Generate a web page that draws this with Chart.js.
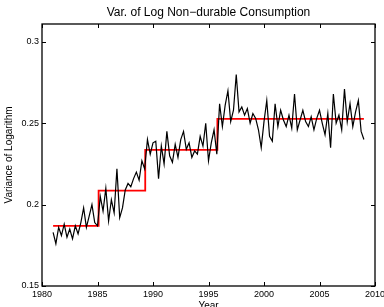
<!DOCTYPE html>
<html>
<head>
<meta charset="utf-8">
<script src="https://cdn.jsdelivr.net/npm/chart.js@4"></script>
<style>
  html, body { margin: 0; padding: 0; background: #fff; }
  canvas { display: block; }
</style>
</head>
<body>
<canvas id="chart" width="384" height="307"></canvas>
<script>
// quarterly variance of log non-durable consumption, 1981Q1 .. 2009Q1
const startYear = 1981;
const variance = [
  0.183, 0.176, 0.186, 0.181,  // 1981
  0.188, 0.180, 0.185, 0.179,  // 1982
  0.187, 0.182, 0.189, 0.198,  // 1983
  0.186, 0.193, 0.200, 0.189,  // 1984
  0.187, 0.205, 0.196, 0.210,  // 1985
  0.190, 0.203, 0.195, 0.222,  // 1986
  0.192, 0.198, 0.209, 0.213,  // 1987
  0.211, 0.216, 0.220, 0.215,  // 1988
  0.227, 0.222, 0.240, 0.231,  // 1989
  0.238, 0.239, 0.216, 0.236,  // 1990
  0.225, 0.245, 0.230, 0.226,  // 1991
  0.237, 0.229, 0.240, 0.245,  // 1992
  0.234, 0.238, 0.229, 0.233,  // 1993
  0.231, 0.242, 0.236, 0.250,  // 1994
  0.227, 0.238, 0.246, 0.231,  // 1995
  0.262, 0.248, 0.261, 0.270,  // 1996
  0.251, 0.258, 0.280, 0.257,  // 1997
  0.260, 0.255, 0.259, 0.250,  // 1998
  0.256, 0.253, 0.246, 0.235,  // 1999
  0.251, 0.264, 0.242, 0.239,  // 2000
  0.262, 0.248, 0.258, 0.252,  // 2001
  0.248, 0.255, 0.247, 0.268,  // 2002
  0.246, 0.252, 0.258, 0.251,  // 2003
  0.248, 0.254, 0.246, 0.253,  // 2004
  0.258, 0.250, 0.243, 0.256,  // 2005
  0.235, 0.268, 0.250, 0.255,  // 2006
  0.246, 0.271, 0.251, 0.262,  // 2007
  0.248, 0.257, 0.264, 0.245,  // 2008
  0.240                        // 2009
];

// regime means (red step line)
const breakYears = [1981, 1985.1, 1989.3, 1995.8, 2009];
const meanLevels = [0.187, 0.2086, 0.2337, 0.2527];

const xTicks = [1980, 1985, 1990, 1995, 2000, 2005, 2010];
const yTicks = [0.15, 0.2, 0.25, 0.3];

const seriesPoints = variance.map((v, i) => ({ x: startYear + i / 4, y: v }));
const stepPoints = breakYears.map((yr, i) => ({ x: yr, y: meanLevels[Math.min(i, meanLevels.length - 1)] }));

const font = "'Liberation Sans', Arial, Helvetica, sans-serif";

// matlab style box with inward ticks on all four sides
const boxTicks = {
  id: 'boxTicks',
  afterDatasetsDraw(chart) {
    const { ctx, chartArea: a, scales: { x, y } } = chart;
    ctx.save();
    ctx.strokeStyle = '#000';
    ctx.lineWidth = 1;
    ctx.beginPath();
    x.ticks.forEach(t => {
      const px = Math.round(x.getPixelForValue(t.value)) + 0.5;
      ctx.moveTo(px, a.bottom); ctx.lineTo(px, a.bottom - 4);
      ctx.moveTo(px, a.top); ctx.lineTo(px, a.top + 4);
    });
    y.ticks.forEach(t => {
      const py = Math.round(y.getPixelForValue(t.value)) + 0.5;
      ctx.moveTo(a.left, py); ctx.lineTo(a.left + 4, py);
      ctx.moveTo(a.right, py); ctx.lineTo(a.right - 4, py);
    });
    ctx.stroke();
    ctx.lineWidth = 1.3;
    ctx.strokeRect(a.left, a.top, a.right - a.left, a.bottom - a.top);
    ctx.restore();
  }
};

new Chart(document.getElementById('chart'), {
  type: 'line',
  data: {
    datasets: [
      {
        data: seriesPoints,
        borderColor: '#000',
        borderWidth: 1.2,
        pointRadius: 0,
        tension: 0
      },
      {
        data: stepPoints,
        borderColor: '#ff0000',
        borderWidth: 1.8,
        pointRadius: 0,
        stepped: 'before'
      }
    ]
  },
  options: {
    responsive: false,
    animation: false,
    layout: { padding: { left: 0, right: 9, top: 0, bottom: 0 } },
    plugins: {
      legend: { display: false },
      tooltip: { enabled: false },
      title: {
        display: true,
        fullSize: false,
        text: 'Var. of Log Non\u2212durable Consumption',
        color: '#000',
        font: { family: font, size: 12, weight: 'normal' },
        padding: { top: 5, bottom: 4.6 }
      }
    },
    scales: {
      x: {
        type: 'linear',
        min: 1980,
        max: 2010,
        afterBuildTicks: s => { s.ticks = xTicks.map(v => ({ value: v })); },
        afterFit: s => { s.height = 21; s.paddingLeft = 0; s.paddingRight = 0; },
        grid: { display: false, drawTicks: false },
        border: { display: false },
        ticks: {
          color: '#000',
          padding: 3,
          maxRotation: 0,
          font: { family: font, size: 9 },
          callback: v => String(v)
        },
        title: {
          display: true,
          text: 'Year',
          color: '#000',
          font: { family: font, size: 10 },
          padding: { top: 0, bottom: -5 }
        }
      },
      y: {
        min: 0.15,
        max: 0.311,
        afterBuildTicks: s => { s.ticks = yTicks.map(v => ({ value: v })); },
        afterFit: s => { s.width = 42; },
        grid: { display: false, drawTicks: false },
        border: { display: false },
        ticks: {
          color: '#000',
          padding: 3,
          font: { family: font, size: 9 },
          callback: v => String(v)
        },
        title: {
          display: true,
          text: 'Variance of Logarithm',
          color: '#000',
          font: { family: font, size: 10 },
          padding: { top: 3, bottom: 0 }
        }
      }
    }
  },
  plugins: [boxTicks]
});
</script>
</body>
</html>
